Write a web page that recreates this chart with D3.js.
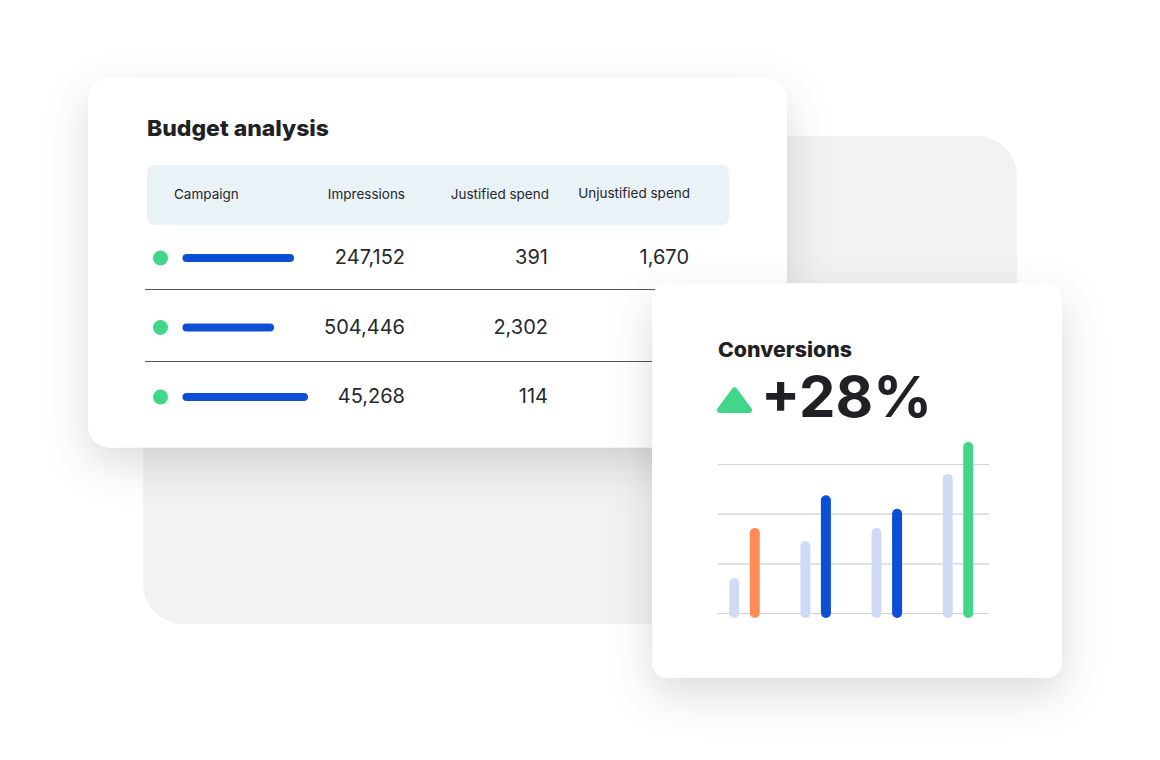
<!DOCTYPE html>
<html>
<head>
<meta charset="utf-8">
<script src="https://cdn.jsdelivr.net/npm/d3@7"></script>
<style>
  html, body { margin: 0; padding: 0; background: #fff; }
  svg { display: block; }
  text { font-family: Inter, sans-serif; fill: #26282c; }
  .title { font-weight: 800; fill: #1f2124; }
</style>
</head>
<body>
<div id="chart"></div>
<script>
// table data
const columns = ['Campaign', 'Impressions', 'Justified spend', 'Unjustified spend'];
const impressions = ['247,152', '504,446', '45,268'];
const justified = ['391', '2,302', '114'];
const unjustified = ['1,670', '', '']; // the other two sit behind the conversions card
const campaignLengths = [112, 92, 126];

// conversions bars
const groups = ['A', 'B', 'C', 'D'];
const previous = [6, 13.5, 16.1, 27];
const current = [16.1, 22.7, 20, 33.4];
const currentColors = ['#ff8c55', '#0d4fd4', '#0d4fd4', '#41d68a'];
const gridTicks = [0, 10, 20, 30];

const svg = d3.select('#chart').append('svg').attr('width', 1160).attr('height', 760);

const defs = svg.append('defs');
const shadow = (id, dy, blur, alpha) => {
  defs.append('filter').attr('id', id)
    .attr('x', '-20%').attr('y', '-20%').attr('width', '140%').attr('height', '150%')
    .append('feDropShadow')
    .attr('dx', 0).attr('dy', dy).attr('stdDeviation', blur)
    .attr('flood-color', '#000').attr('flood-opacity', alpha);
};
shadow('cardShadow', 16, 22, 0.14);

// grey backdrop
svg.append('rect').attr('x', 143).attr('y', 136).attr('width', 874).attr('height', 488)
  .attr('rx', 40).attr('fill', '#f2f2f2');

// budget card
svg.append('rect').attr('x', 88).attr('y', 78).attr('width', 699).attr('height', 369.5)
  .attr('rx', 22).attr('fill', '#fff').attr('filter', 'url(#cardShadow)');

svg.append('text').attr('class', 'title').attr('x', 147).attr('y', 136)
  .attr('font-size', 22).attr('textLength', 182).attr('lengthAdjust', 'spacingAndGlyphs')
  .text('Budget analysis');

svg.append('rect').attr('x', 147).attr('y', 165).attr('width', 582).attr('height', 60)
  .attr('rx', 7).attr('fill', '#e9f2f7');

const colRight = d3.scaleOrdinal().domain(columns).range([174, 405, 548, 689]);
const headerRight = [174, 405, 549, 690];
const headerY = [199, 199, 199, 198];
svg.append('g').selectAll('text').data(columns).join('text')
  .attr('x', (d, i) => headerRight[i])
  .attr('y', (d, i) => headerY[i])
  .attr('text-anchor', (d, i) => (i === 0 ? 'start' : 'end'))
  .attr('font-size', 13.5)
  .text(d => d);

const rows = d3.range(impressions.length);
const rowY = d3.scaleOrdinal().domain(rows).range([258, 327.5, 397]);
const lengthX = d3.scaleLinear().domain([0, 126]).range([0, 126]);

svg.append('g').selectAll('line').data([290, 362]).join('line')
  .attr('x1', 145).attr('x2', 729).attr('y1', d => d - 0.5).attr('y2', d => d - 0.5)
  .attr('stroke', '#555').attr('stroke-width', 1);

const row = svg.append('g').selectAll('g').data(rows).join('g')
  .attr('transform', d => `translate(0,${rowY(d)})`);
row.append('circle').attr('cx', 160.5).attr('r', 7.5).attr('fill', '#41d68a');
row.append('line')
  .attr('x1', 186.5)
  .attr('x2', d => 182 + lengthX(campaignLengths[d]) - 4)
  .attr('stroke', '#0d4fd4').attr('stroke-width', 8).attr('stroke-linecap', 'round');
[[impressions, 1], [justified, 2], [unjustified, 3]].forEach(([vals, c]) => {
  row.append('text')
    .attr('x', colRight(columns[c]))
    .attr('y', 6)
    .attr('text-anchor', 'end')
    .attr('font-size', 20)
    .text(d => vals[d]);
});

// conversions card
svg.append('rect').attr('x', 652).attr('y', 283).attr('width', 410).attr('height', 395)
  .attr('rx', 16).attr('fill', '#fff').attr('filter', 'url(#cardShadow)');

svg.append('text').attr('class', 'title').attr('x', 718).attr('y', 357)
  .attr('font-size', 20.5).attr('textLength', 134).attr('lengthAdjust', 'spacingAndGlyphs')
  .text('Conversions');

svg.append('path').attr('d', 'M734.5 390.5 L749 410 L720 410 Z')
  .attr('fill', '#41d68a').attr('stroke', '#41d68a')
  .attr('stroke-width', 6).attr('stroke-linejoin', 'round');

svg.append('text').attr('x', 761).attr('y', 416.5)
  .attr('font-size', 57).attr('font-weight', 700).style('fill', '#1f2124')
  .attr('textLength', 171).attr('lengthAdjust', 'spacingAndGlyphs')
  .text('+28%');

const x = d3.scalePoint().domain(groups).range([744.5, 958]);
const y = d3.scaleLinear().domain([0, 30]).range([613, 464]);

const grid = svg.append('g')
  .attr('transform', 'translate(718,0)')
  .call(d3.axisRight(y).tickValues(gridTicks).tickSize(271).tickFormat(''));
grid.select('.domain').remove();
grid.selectAll('line').attr('stroke', '#d2d2d2').attr('stroke-width', 1.2);

const bars = (vals, dx, color) => svg.append('g').selectAll('line').data(groups).join('line')
  .attr('x1', d => x(d) + dx)
  .attr('x2', d => x(d) + dx)
  .attr('y1', y(0))
  .attr('y2', (d, i) => y(vals[i]))
  .attr('stroke', color)
  .attr('stroke-width', 10)
  .attr('stroke-linecap', 'round');

bars(previous, -10.25, '#cfdaf5');
bars(current, 10.25, (d, i) => currentColors[i]);
</script>
</body>
</html>
